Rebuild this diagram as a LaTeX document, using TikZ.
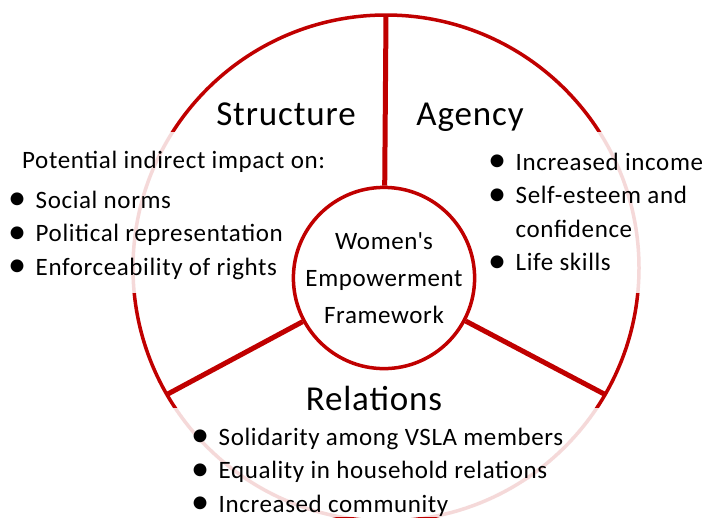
\documentclass[tikz,border=0pt]{standalone}
\usepackage{fontspec}
\setmainfont{Carlito}[LetterSpace=2.5]
\usetikzlibrary{positioning, calc}
\definecolor{rimred}{HTML}{C00000}
\newcommand{\itemdot}{\makebox[27.5pt][l]{\raisebox{-0.06em}{\scalebox{1.45}{\textbullet}}}}

\begin{document}
\begin{tikzpicture}[
x=1pt, y=-1pt,
rim/.style={draw=rimred, line width=3.5pt},
spoke/.style={draw=rimred, line width=5pt},
veil/.style={fill=white, fill opacity=0.85},
hub/.style={circle, 
draw=rimred, 
line width=3.5pt, 
fill=white, 
minimum size=172pt, 
inner sep=0pt, 
align=center, 
font=\fontsize{25}{37}\selectfont},
heading/.style={inner sep=0pt, anchor=base, font=\fontsize{35}{42}\selectfont},
lead/.style={inner sep=0pt, anchor=base west, font=\fontsize{25}{33.5}\selectfont},
listbox/.style={inner sep=0pt, anchor=base west, font=\fontsize{25}{33.5}\selectfont}
]
\useasboundingbox (0,0) rectangle (709,517);

% outer ring, faded behind the text blocks
\coordinate (ctr) at (386,268);
\coordinate (rimT) at ($(ctr)+(90:253pt)$);
\coordinate (rimL) at ($(ctr)+(210:253pt)$);
\coordinate (rimR) at ($(ctr)+(330:253pt)$);
\draw[rim] (ctr) circle[radius=253pt];

\fill[veil] (0,132) rectangle (332,293);
\fill[veil] (478,132) rectangle (709,293);
\fill[veil] (140,408) rectangle (640,517);

% hub and spokes
\node[hub] (hub) at (384,278) {Women\textquotesingle s\\Empowerment\\Framework};

\draw[spoke] (rimT) -- (hub);
\draw[spoke] (rimL) -- (hub);
\draw[spoke] (rimR) -- (hub);

\node[heading] (strhead) at (286,125) {Structure};
\node[heading] (agyhead) at (470,125) {Agency};
\node[heading] (relhead) at (374,410) {Relations};

\node[lead] (strlead) at (22,168) {Potential indirect impact on:};
\node[listbox] (strlist) at (8,208) {\begin{tabular}[t]{@{}l@{}}
\itemdot Social norms\\
\itemdot Political representation\\
\itemdot Enforceability of rights
\end{tabular}};
\node[listbox] (agylist) at (488,170) {\begin{tabular}[t]{@{}l@{}}
\itemdot Increased income\\
\itemdot Self-esteem and\\
\hspace*{27.5pt}confidence\\
\itemdot Life skills
\end{tabular}};
\node[listbox] (rellist) at (191,445) {\begin{tabular}[t]{@{}l@{}}
\itemdot Solidarity among VSLA members\\
\itemdot Equality in household relations\\
\itemdot Increased community
\end{tabular}};

\end{tikzpicture}
\end{document}
